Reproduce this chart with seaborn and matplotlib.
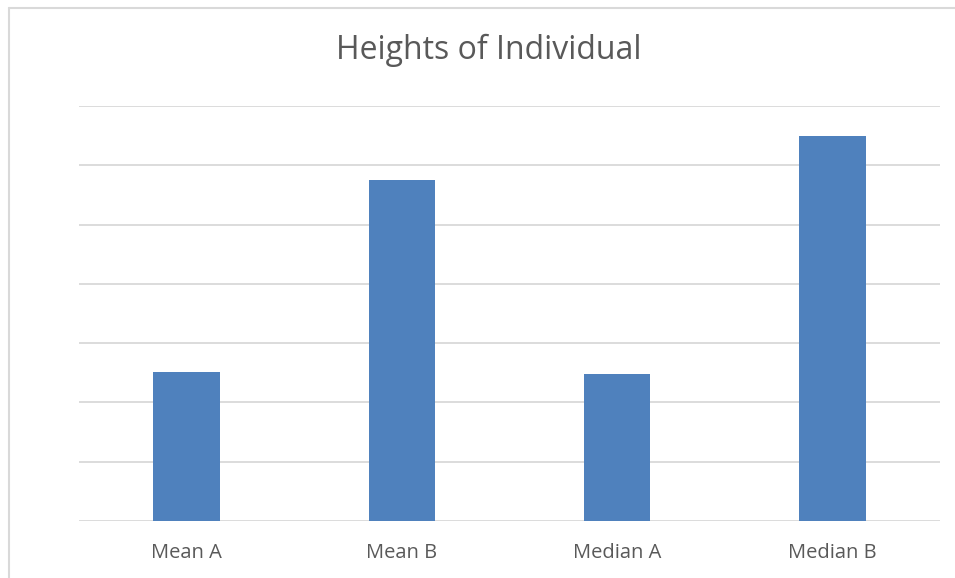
import matplotlib
matplotlib.use("Agg")
import matplotlib.pyplot as plt
from matplotlib.lines import Line2D
import seaborn as sns
import pandas as pd

categories = ["Mean A", "Mean B", "Median A", "Median B"]
heights = [2.51, 5.75, 2.48, 6.49]
title = "Heights of Individual"

sns.set_theme(style="white")
plt.rcParams["font.family"] = ["Open Sans", "DejaVu Sans"]

df = pd.DataFrame({"stat": categories, "height": heights})

fig = plt.figure(figsize=(9.55, 5.78), dpi=100)
ax = fig.add_axes([79 / 955, 1 - 521 / 578, (940 - 79) / 955, (521 - 106) / 578])

sns.barplot(data=df, x="stat", y="height", color="#4F81BD", saturation=1,
            width=0.31, linewidth=0, ax=ax, zorder=3)

ax.set_ylim(0, 7)
ax.set_xlim(-0.5, 3.5)
ax.set_yticks(range(0, 8))
ax.yaxis.grid(True, color="#D9D9D9", linewidth=1.3, zorder=0)
ax.set_axisbelow(True)
ax.tick_params(axis="y", left=False, labelleft=False)
ax.tick_params(axis="x", bottom=False, labelsize=14.5, labelcolor="#595959", pad=10)
for s in ax.spines.values():
    s.set_visible(False)
ax.set_xlabel("")
ax.set_ylabel("")

fig.text(489 / 955, 1 - 50 / 578, title, ha="center", va="center",
         fontsize=23, color="#595959")

# chart-area border (top and left edges)
fig.add_artist(Line2D([8.5 / 955, 1.0], [1 - 7.5 / 578, 1 - 7.5 / 578],
                      transform=fig.transFigure, color="#D9D9D9", linewidth=1.5))
fig.add_artist(Line2D([8.5 / 955, 8.5 / 955], [0.0, 1 - 7.5 / 578],
                      transform=fig.transFigure, color="#D9D9D9", linewidth=1.5))

fig.savefig("out.png", dpi=100, facecolor="white")
